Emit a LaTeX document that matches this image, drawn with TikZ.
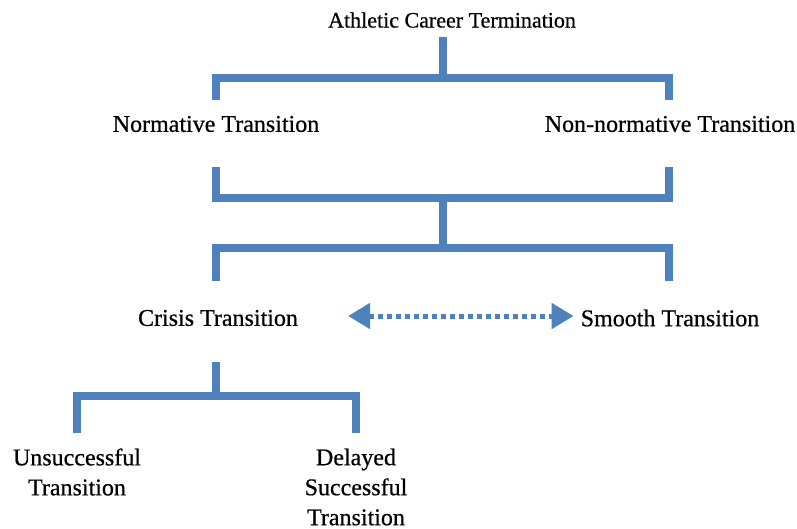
\documentclass[tikz,border=0pt]{standalone}
\usepackage{fontspec}
\setmainfont{Liberation Serif}[FakeBold=0.6]
\usetikzlibrary{arrows.meta}
\definecolor{barblue}{HTML}{4F81BD}
\begin{document}
\begin{tikzpicture}[x=1pt,y=-1pt,
  bar/.style={draw=barblue, line width=8pt, line join=miter, line cap=butt},
  lbl/.style={inner sep=0pt, font=\fontsize{24}{30}\selectfont, align=center, text=black},
  toplbl/.style={lbl, font=\fontsize{22}{26}\selectfont},
  duallink/.style={draw=barblue, line width=5pt, dash pattern=on 5pt off 4pt,
    {Triangle[length=22pt,width=25pt]}-{Triangle[length=22pt,width=25pt]}}]
\useasboundingbox (0,0) rectangle (797,528);

% labels
\node[toplbl] (title) at (452,20) {Athletic Career Termination};
\node[lbl] (norm) at (216,124) {Normative Transition};
\node[lbl] (nonnorm) at (670,124) {Non-normative Transition};
\node[lbl] (crisis) at (218,318) {Crisis Transition};
\node[lbl] (smooth) at (670,318) {Smooth Transition};
\node[lbl] (unsucc) at (77,472) {Unsuccessful\\Transition};
\node[lbl] (delayed) at (356,487) {Delayed\\Successful\\Transition};

% junction points of the brackets
\coordinate (stemA) at (443,37);
\coordinate (joinA) at (443,78);
\coordinate (joinB) at (443,198);
\coordinate (joinC) at (443,248);
\coordinate (stemD) at (216,362);
\coordinate (joinD) at (216,396);

% first split
\draw[bar] (stemA) -- (joinA);
\draw[bar] (216,100) -- (216,78) -- (669,78) -- (669,100);
% merge back
\draw[bar] (216,167) -- (216,198) -- (669,198) -- (669,167);
\draw[bar] (joinB) -- (joinC);
% second split
\draw[bar] (216,281) -- (216,248) -- (669,248) -- (669,281);
% outcomes of a crisis transition
\draw[bar] (stemD) -- (joinD);
\draw[bar] (unsucc |- 0,433) -- (unsucc |- joinD) -- (delayed |- joinD) -- (delayed |- 0,433);

% crisis <-> smooth
\draw[duallink, shorten <=50pt, shorten >=7pt] (crisis.east |- 0,316) -- (smooth.west |- 0,316);
\end{tikzpicture}
\end{document}
